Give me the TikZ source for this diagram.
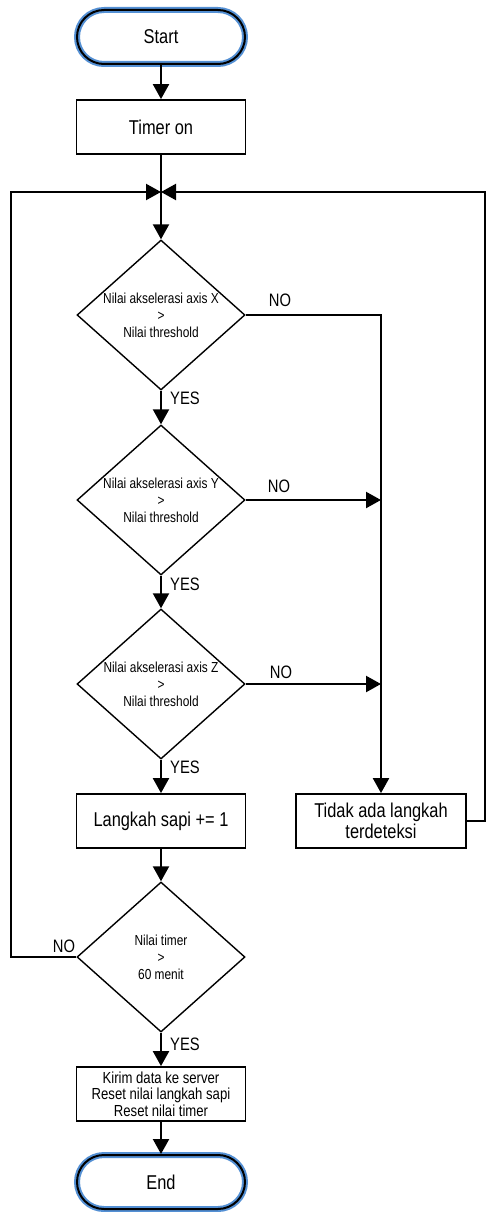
\documentclass[tikz,border=0pt]{standalone}
\usepackage{fontspec}
\setmainfont{Liberation Sans}[FakeStretch=0.82]
\usetikzlibrary{shapes.geometric,arrows.meta}
\definecolor{glow}{RGB}{84,144,212}
\begin{document}
\begin{tikzpicture}[x=1pt,y=-1pt,
  term/.style={rectangle, rounded corners=27pt, minimum width=168pt, minimum height=54pt,
    draw=glow, line width=6pt, outer sep=1pt, preaction={fill=white},
    postaction={draw=black, line width=2pt}, font=\fontsize{20}{24}\selectfont},
  box/.style={rectangle, draw, line width=1.8pt, minimum width=169pt, minimum height=54pt,
    inner sep=2pt, outer sep=0.9pt, align=center, font=\fontsize{20}{21}\selectfont},
  dia/.style={diamond, draw, line width=1.4pt, minimum width=168pt, minimum height=150pt,
    inner sep=0pt, outer sep=0.7pt},
  dtext/.style={font=\fontsize{14.5}{17}\selectfont, align=center, inner sep=0pt},
  lab/.style={font=\fontsize{18}{20}\selectfont, inner sep=0pt},
  conn/.style={line width=2.2pt},
  arr/.style={conn, -{Triangle[length=15pt,width=16pt]}}
]
\useasboundingbox (0,0) rectangle (486,1212);

\node[term] (start) at (161,37) {Start};
\node[box] (timer) at (161,127) {Timer on};
\coordinate (j) at (161,192);
\coordinate (ltop) at (11,192);
\coordinate (rtop) at (485,192);

\node[dia] (d1) at (161,315) {};
\node[dtext] (d1t) at (d1.center) {Nilai akselerasi axis X\\>\\Nilai threshold};
\node[dia] (d2) at (161,500) {};
\node[dtext] (d2t) at (d2.center) {Nilai akselerasi axis Y\\>\\Nilai threshold};
\node[dia] (d3) at (161,684) {};
\node[dtext] (d3t) at (d3.center) {Nilai akselerasi axis Z\\>\\Nilai threshold};

\node[box] (langkah) at (161,821) {Langkah sapi += 1};
\node[box, minimum width=170pt] (tidak) at (381,821) {Tidak ada langkah\\terdeteksi};

\node[dia] (d4) at (161,957) {};
\node[dtext] (d4t) at (d4.center) {Nilai timer\\>\\60 menit};

\node[box, font=\fontsize{16}{16.5}\selectfont] (kirim) at (161,1094) {Kirim data ke server\\Reset nilai langkah sapi\\Reset nilai timer};
\node[term] (end) at (161,1182) {End};

% connectors
\draw[arr] (start) -- (timer);
\draw[conn] (timer) -- (j);
\draw[arr] (j) -- (d1);
\draw[arr] (d1) -- (d2);
\draw[arr] (d2) -- (d3);
\draw[arr] (d3) -- (langkah);
\draw[arr] (langkah) -- (d4);
\draw[arr] (d4) -- (kirim);
\draw[arr] (kirim) -- (end);

\draw[arr] (d1.east) -| (tidak.north);
\draw[arr] (d2.east) -- (d2.east -| tidak.north);
\draw[arr] (d3.east) -- (d3.east -| tidak.north);
\draw[arr] (tidak.east) -| (rtop) -- (j);
\draw[arr] (d4.west) -| (ltop) -- (j);

% labels
\node[lab] (no1) at (280,300) {NO};
\node[lab] (yes1) at (185,398) {YES};
\node[lab] (no2) at (279,486) {NO};
\node[lab] (yes2) at (185,584) {YES};
\node[lab] (no3) at (281,672) {NO};
\node[lab] (yes3) at (185,767) {YES};
\node[lab] (no4) at (64,946) {NO};
\node[lab] (yes4) at (185,1044) {YES};
\end{tikzpicture}
\end{document}
